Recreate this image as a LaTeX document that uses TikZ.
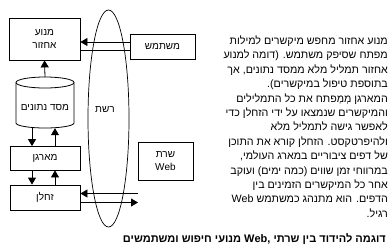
\documentclass[tikz,border=0pt]{standalone}
\usepackage{fontspec}
\setmainfont{Liberation Sans}[Script=Hebrew]
\newfontfamily\heb[Script=Hebrew]{Liberation Sans}
\TeXXeTstate=1
\usetikzlibrary{arrows.meta,shapes.geometric}
\begin{document}
\begin{tikzpicture}[x=1pt,y=-1pt,
  box/.style={draw, line width=0.8pt, inner sep=0pt, align=center, font=\heb\fontsize{10}{13}\selectfont},
  lbl/.style={inner sep=0pt, align=center, font=\heb\fontsize{10}{13}\selectfont},
  arr/.style={-{Triangle[length=7pt,width=8pt]}, line width=0.8pt},
  plain/.style={line width=0.8pt}]
\fill[white] (0,0) rectangle (391,250);
\useasboundingbox (0,0) rectangle (391,250);
% network ellipse
\node[draw, ellipse, line width=0.7pt, minimum width=41pt, minimum height=217pt, inner sep=0pt] (net) at (108.5,118.5) {};
\node[lbl] (netl) at (105,110) {\beginR רשת\endR};
% boxes
\node[box, minimum width=71pt, minimum height=42pt] (retr) at (44.5,39) {\beginR מנוע\endR\\\beginR אחזור\endR};
\node[box, minimum width=65pt, minimum height=25pt] (user) at (162.5,46.5) {\beginR משתמש\endR};
\node[box, minimum width=70pt, minimum height=23.5pt] (idx) at (45,158.25) {\beginR מארגן\endR};
\node[box, minimum width=70pt, minimum height=25pt] (crw) at (45,197.5) {\beginR זחלן\endR};
\node[box, minimum width=55pt, minimum height=38pt] (web) at (165.5,161) {\beginR שרת\endR\\Web};
% database cylinder
\node[inner sep=0pt, minimum width=58pt, minimum height=51pt] (db) at (45,102.5) {};
\draw[line width=0.8pt, fill=white] (45,82.5) ellipse [x radius=29, y radius=5.5];
\draw[line width=0.8pt] (16,82.5) -- (16,123) arc[start angle=180, end angle=360, x radius=29, y radius=-5] -- (74,82.5);
\node[lbl] (dbl) at (45,107) {\beginR מסד נתונים\endR};
% connectors
\draw[arr] (user.west |- 0,42) -- (retr.east |- 0,42);
\draw[plain] (retr.east |- 0,50) -- (user.west |- 0,50);
\draw[arr] (db.north) -- (retr.south);
\draw[arr] (db.south -| 32,0) -- (idx.north -| 32,0);
\draw[arr] (idx.north -| 55,0) -- (db.south -| 55,0);
\draw[arr] (idx.south -| 32,0) -- (crw.north -| 32,0);
\draw[arr] (crw.north -| 55,0) -- (idx.south -| 55,0);
\coordinate (c1) at (138,193.5);
\coordinate (c2) at (138,202.5);
\draw[arr] (c1) -- (crw.east |- c1);
\draw[arr] (crw.east |- c2) -- (c2);
% paragraph
\node[anchor=north east, inner sep=0pt, align=right, font=\heb\fontsize{10.7}{14.4}\selectfont] (para) at (388,35.5) {%
\beginR מנוע אחזור מחפש מיקשרים למילות\endR\\
\beginR מפתח שסיפק משתמש. (דומה למנוע\endR\\
\beginR אחזור תמליל מלא ממסד נתונים, אך\endR\\
\beginR בתוספת טיפול במיקשרים).\endR\\
\beginR המארגן מְמַפתח את כל התמלילים\endR\\
\beginR והמיקשרים שנמצאו על ידי הזחלן כדי\endR\\
\beginR לאפשר גישה לתמליל מלא\endR\\
\beginR ולהיפרטקסט. הזחלן קורא את התוכן\endR\\
\beginR של דפים ציבוריים במארג העולמי,\endR\\
\beginR במרווחי זמן שווים (כמה ימים) ועוקב\endR\\
\beginR אחר כל המיקשרים הזמינים בין\endR\\
\beginR הדפים. הוא מתנהג כמשתמש Web\endR\\
\beginR רגיל.\endR};
% caption
\node[anchor=east, inner sep=0pt, font=\heb\bfseries\fontsize{11}{13}\selectfont] (cap) at (386,239.5) {\beginR דוגמה להידוד בין שרתי Web, מנועי חיפוש ומשתמשים\endR};
\end{tikzpicture}
\end{document}
